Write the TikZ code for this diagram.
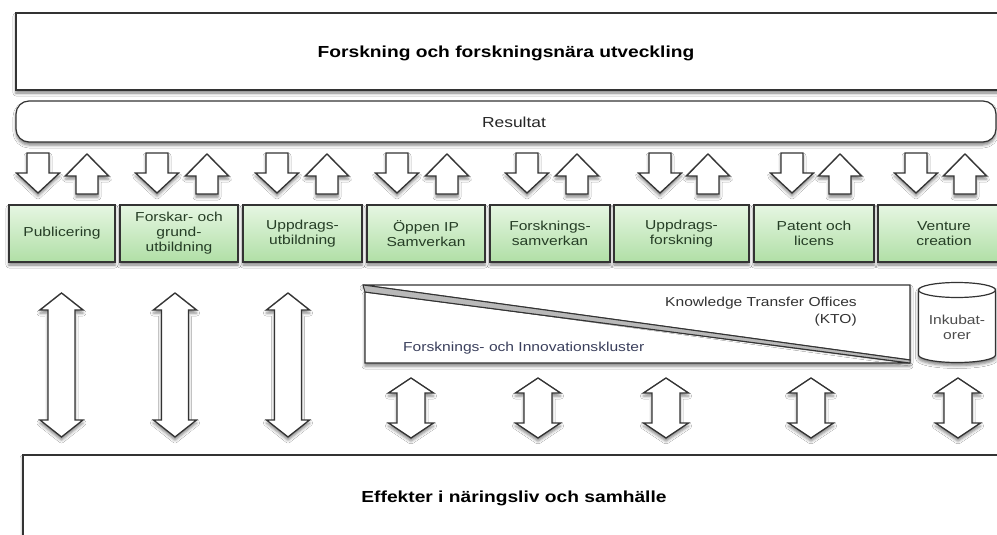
\documentclass[tikz,border=0pt]{standalone}
\usepackage{fontspec}
\setmainfont{Liberation Sans}[FakeStretch=1.2]
\usetikzlibrary{shadows.blur}
\definecolor{edge}{HTML}{333333}
\definecolor{gtop}{HTML}{E6F6E2}
\definecolor{gbot}{HTML}{B0DFA6}
\definecolor{gtext}{HTML}{263E26}
\definecolor{clus}{HTML}{3A3F5C}
\tikzset{
  shad/.style={blur shadow={shadow xshift=0pt, shadow yshift=-3pt, shadow blur radius=3pt, shadow opacity=50}},
  frame/.style={draw=edge, line width=1.2pt, fill=white},
  bigbox/.style={frame, shad, rectangle, inner sep=0pt},
  greenbox/.style={draw=edge, line width=1.2pt, top color=gtop, bottom color=gbot, shad,
    rectangle, inner sep=0pt, minimum height=57pt, align=center, text=gtext,
    font=\fontsize{13}{15}\selectfont},
  blockarrow/.style={frame, line width=1.3pt, shad, line join=miter},
  dnarrow/.pic={\path[blockarrow] (-11,0) -- (11,0) -- (11,20) -- (21.5,20) -- (0,40) -- (-21.5,20) -- (-11,20) -- cycle;},
  uparrow/.pic={\path[blockarrow] (0,0) -- (21.5,22) -- (11,22) -- (11,40) -- (-11,40) -- (-11,22) -- (-21.5,22) -- cycle;},
  longarrow/.pic={\path[blockarrow] (0,0) -- (21.5,17) -- (13.5,17) -- (13.5,127) -- (21.5,127) -- (0,144) -- (-21.5,127) -- (-13.5,127) -- (-13.5,17) -- (-21.5,17) -- cycle;},
  shortarrow/.pic={\path[blockarrow] (0,0) -- (22.5,15) -- (14,15) -- (14,45) -- (22.5,45) -- (0,60) -- (-22.5,45) -- (-14,45) -- (-14,15) -- (-22.5,15) -- cycle;},
}
\begin{document}
\begin{tikzpicture}[x=1pt, y=-1pt]
\useasboundingbox (0,0) rectangle (997,535);
\clip (0,0) rectangle (997,535);
\fill[white] (0,0) rectangle (997,535);

% top box
\node[bigbox, minimum width=994pt, minimum height=77pt] (topbox) at (513,51.5) {};
\node[font=\fontsize{16}{19}\selectfont\bfseries, text=black] (toptext) at (506,53) {Forskning och forskningsnära utveckling};

% Resultat
\node[bigbox, rounded corners=13pt, minimum width=980pt, minimum height=41pt] (res) at (506,121.5) {};
\node[font=\fontsize{14.5}{17}\selectfont, text=black!85] (restext) at (514,122) {Resultat};

% small arrows
\foreach \d/\u in {38/87, 157/207, 277/327, 397/447, 527/577, 660/708, 792/840, 916/965}{
  \pic at (\d,153) {dnarrow};
  \pic at (\u,154) {uparrow};
}

% green boxes
\node[greenbox, minimum width=106pt] (pub) at (62,233.5) {Publicering};
\node[greenbox, minimum width=118pt] (fgu) at (179,233.5) {Forskar- och\\grund-\\utbildning};
\node[greenbox, minimum width=119pt] (uu) at (302.5,233.5) {Uppdrags-\\utbildning};
\node[greenbox, minimum width=118pt] (oip) at (426,233.5) {Öppen IP\\Samverkan};
\node[greenbox, minimum width=120pt] (fs) at (550,233.5) {Forsknings-\\samverkan};
\node[greenbox, minimum width=135pt] (uf) at (681.5,233.5) {Uppdrags-\\forskning};
\node[greenbox, minimum width=120pt] (pl) at (814,233.5) {Patent och\\licens};
\node[greenbox, minimum width=132pt, text width=120pt] (vc) at (944,233.5) {Venture\\creation};

% long double arrows
\foreach \x in {61.5, 175, 288}{ \pic at (\x,293) {longarrow}; }

% KTO / cluster box
\path[frame, shad] (365,292) -- (910,363) -- (365,363) -- cycle;
\path[frame, shad] (363,285) -- (910,285) -- (910,360) -- cycle;
\path[draw=edge, line width=1pt, fill=gray!55] (363,285) -- (910,360) -- (910,363) -- (365,292) -- cycle;
\node[anchor=east, font=\fontsize{13}{15}\selectfont, text=black!80, inner sep=0pt] (kto1) at (857,303) {Knowledge Transfer Offices};
\node[anchor=east, font=\fontsize{13}{15}\selectfont, text=black!80, inner sep=0pt] (kto2) at (857,320) {(KTO)};
\node[anchor=west, font=\fontsize{13}{15}\selectfont, text=clus, inner sep=0pt] (clus) at (403,348) {Forsknings- och Innovationskluster};

% cylinder
\path[frame, shad] (918.5,290) -- (918.5,355) arc (180:360:38.5pt and 7.5pt) -- (995.5,290) arc (0:180:38.5pt and 7.5pt) -- cycle;
\draw[edge, line width=1.2pt] (918.5,290) arc (180:360:38.5pt and 7.5pt);
\node[align=center, font=\fontsize{13}{15}\selectfont, text=black!70] (ink) at (957,327) {Inkubat-\\orer};

% short double arrows
\foreach \x in {411, 538, 666, 811, 958}{ \pic at (\x,378) {shortarrow}; }

% bottom box
\node[bigbox, minimum width=987pt, minimum height=90pt] (botbox) at (516.5,500) {};
\node[font=\fontsize{16}{19}\selectfont\bfseries, text=black] (bottext) at (514,498) {Effekter i näringsliv och samhälle};
\end{tikzpicture}
\end{document}
